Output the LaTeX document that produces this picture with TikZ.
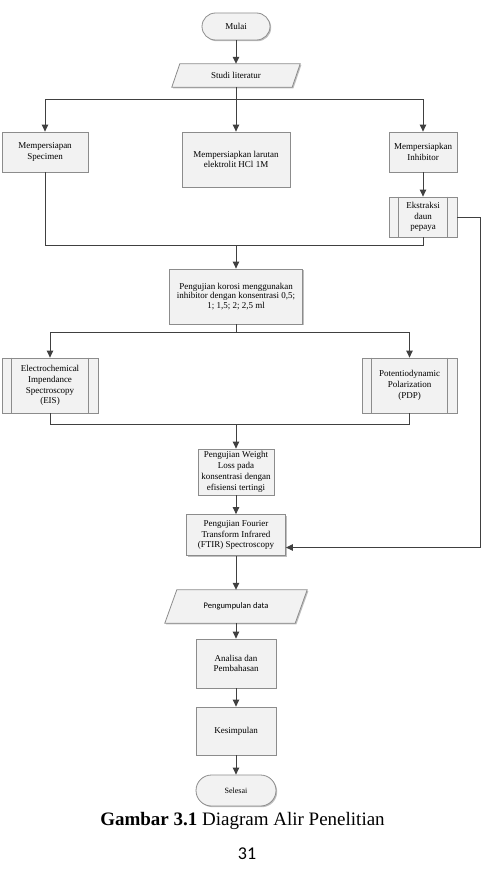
\documentclass[tikz,border=0pt]{standalone}
\usepackage{fontspec}
\setmainfont{Liberation Serif}
\newfontfamily\calib{Carlito}
\usetikzlibrary{arrows.meta,shadows,backgrounds,calc}
\definecolor{linec}{HTML}{404040}
\definecolor{boxd}{HTML}{8C8C8C}
\definecolor{boxf}{HTML}{F2F2F2}
\begin{document}
\begin{tikzpicture}[x=1pt,y=-1pt,
  shad/.style={drop shadow={shadow xshift=1.2pt, shadow yshift=-1.2pt, opacity=0.25, fill=black}},
  base/.style={draw=boxd, line width=0.8pt, fill=boxf, align=center, inner sep=1pt,
    font=\fontsize{9}{10.8}\selectfont, shad},
  proc/.style={base, rectangle},
  term/.style={base, rectangle},
  io/.style={rectangle, align=center, inner sep=1pt, font=\fontsize{9}{10.8}\selectfont},
  iopath/.style={draw=boxd, line width=0.8pt, fill=boxf, shad},
  inner/.style={draw=boxd, line width=0.8pt},
  arr/.style={draw=linec, line width=1pt, -{Triangle[length=7pt,width=6.5pt]}},
  ln/.style={draw=linec, line width=1pt}
]
\useasboundingbox (0,0) rectangle (484,880);

% nodes
\node[term, minimum width=68pt, minimum height=27pt, rounded corners=13.5pt] (mulai) at (236,26.5) {Mulai};
\node[io, minimum width=128pt, minimum height=23pt] (studi) at (236,75.5) {Studi literatur};
\node[proc, minimum width=86pt, minimum height=40pt] (spec) at (45,152) {Mempersiapan\\Specimen};
\node[proc, minimum width=108pt, minimum height=55pt] (larutan) at (236,159.5) {Mempersiapkan larutan\\elektrolit HCl 1M};
\node[proc, minimum width=68pt, minimum height=40pt] (inhib) at (423,152) {Mempersiapkan\\Inhibitor};
\node[proc, minimum width=68pt, minimum height=40pt] (ekstr) at (423,217) {Ekstraksi\\daun\\pepaya};
\node[proc, minimum width=133pt, minimum height=55pt, font=\fontsize{9}{9.6}\selectfont] (korosi) at (236,296.5) {Pengujian korosi menggunakan\\inhibitor dengan konsentrasi 0,5;\\1; 1,5; 2; 2,5 ml};
\node[proc, minimum width=96pt, minimum height=55pt] (eis) at (50,385.5) {Electrochemical\\Impendance\\Spectroscopy\\(EIS)};
\node[proc, minimum width=95pt, minimum height=55pt] (pdp) at (409.5,385.5) {Potentiodynamic\\Polarization\\(PDP)};
\node[proc, minimum width=76pt, minimum height=46pt] (weight) at (236,472) {Pengujian Weight\\Loss pada\\konsentrasi dengan\\efisiensi tertingi};
\node[proc, minimum width=99pt, minimum height=41pt] (ftir) at (236,535) {Pengujian Fourier\\Transform Infrared\\(FTIR) Spectroscopy};
\node[io, minimum width=142pt, minimum height=33pt, font=\calib\fontsize{8.5}{10}\selectfont] (peng) at (236,606.5) {Pengumpulan data};
\node[proc, minimum width=80pt, minimum height=49pt] (analisa) at (236,663.5) {Analisa dan\\Pembahasan};
\node[proc, minimum width=80pt, minimum height=48pt] (kesim) at (236,731) {Kesimpulan};
\node[term, minimum width=80pt, minimum height=31pt, rounded corners=15.5pt, font=\fontsize{8}{10}\selectfont] (selesai) at (236,790.5) {Selesai};

% parallelograms
\begin{pgfonlayer}{background}
\path[iopath] (studi.south west) -- ([xshift=8pt]studi.north west) -- (studi.north east) -- ([xshift=-8pt]studi.south east) -- cycle;
\path[iopath] (peng.south west) -- ([xshift=12pt]peng.north west) -- (peng.north east) -- ([xshift=-12pt]peng.south east) -- cycle;
\end{pgfonlayer}

% predefined process inner lines
\foreach \n/\d in {ekstr/10, eis/10, pdp/10}{
  \draw[inner] ([xshift=\d pt]\n.north west) -- ([xshift=\d pt]\n.south west);
  \draw[inner] ([xshift=-\d pt]\n.north east) -- ([xshift=-\d pt]\n.south east);
}

% connectors
\draw[arr] (mulai) -- (studi);
\coordinate (j1) at (236,100);
\draw[ln] (studi) -- (j1);
\draw[arr] (j1) -| (spec);
\draw[arr] (j1) -- (larutan);
\draw[arr] (j1) -| (inhib);
\draw[arr] (inhib) -- (ekstr);
\coordinate (j2) at (236,245);
\draw[ln] (spec) |- (j2);
\draw[ln] (ekstr) |- (j2);
\draw[arr] (j2) -- (korosi);
\coordinate (j3) at (236,332);
\draw[ln] (korosi) -- (j3);
\draw[arr] (j3) -| (eis);
\draw[arr] (j3) -| (pdp);
\coordinate (j4) at (236,424);
\draw[ln] (eis) |- (j4);
\draw[ln] (pdp) |- (j4);
\draw[arr] (j4) -- (weight);
\draw[arr] (weight) -- (ftir);
\coordinate (r1) at (480,217);
\draw[arr] (ekstr) -- (r1) |- ([yshift=-12.5pt]ftir.east);
\draw[arr] (ftir) -- (peng);
\draw[arr] (peng) -- (analisa);
\draw[arr] (analisa) -- (kesim);
\draw[arr] (kesim) -- (selesai);

% caption
\node[anchor=base, inner sep=0pt, font=\fontsize{19}{22}\selectfont] (cap) at (242.5,825) {\textbf{Gambar 3.1} Diagram Alir Penelitian};
\node[anchor=base, inner sep=0pt, font=\calib\fontsize{18}{20}\selectfont] (pg) at (247,859) {31};
\end{tikzpicture}
\end{document}
